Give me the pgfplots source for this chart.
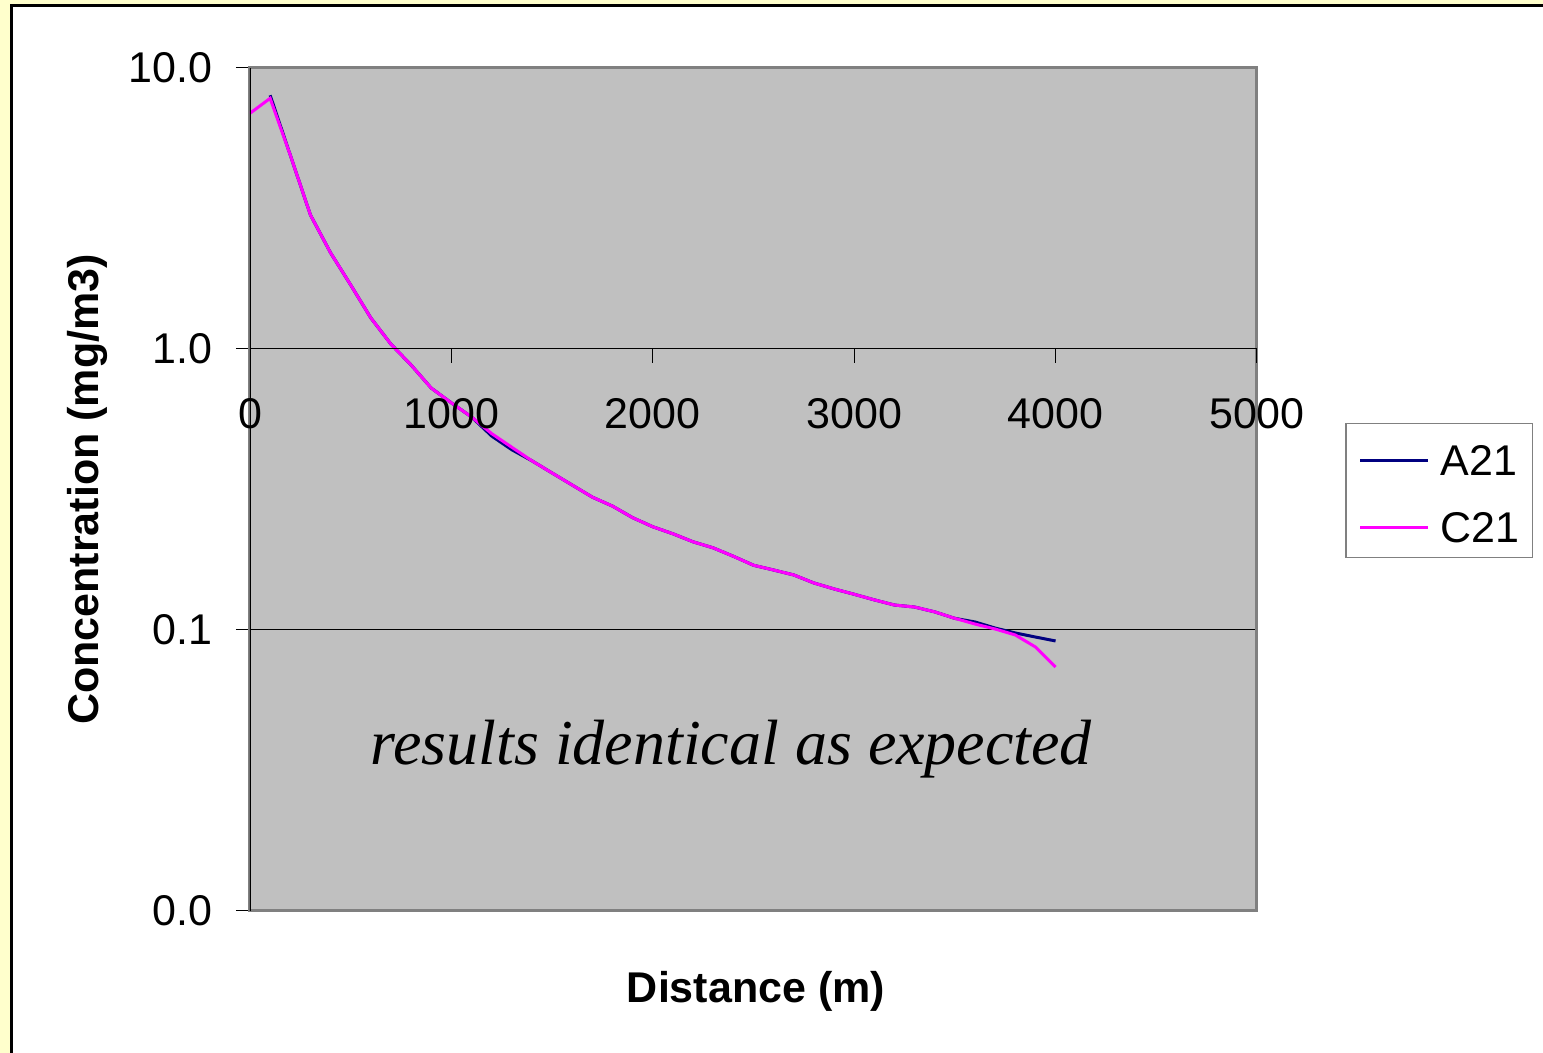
\documentclass[border=0pt]{standalone}
\usepackage{pgfplots}
\pgfplotsset{compat=1.18}
\usepackage{pgfplotstable}
\usepackage{fontspec}
\setmainfont{Liberation Sans}
\newfontfamily\timesfont{Liberation Serif}
\definecolor{bgyellow}{HTML}{FFFFCC}
\definecolor{plotgray}{HTML}{C0C0C0}
\definecolor{framegray}{HTML}{808080}
\definecolor{navyA}{HTML}{000080}
\definecolor{magC}{HTML}{FF00FF}
\newcommand\chartfont{\fontsize{21.5}{25}\selectfont}

% distance (m), concentration (mg/m3)
\pgfplotstableread{
d     A21     C21
0     nan     6.9
100   8.0     7.8
200   4.9     4.9
300   3.0     3.0
400   2.2     2.2
500   1.69    1.69
600   1.29    1.29
700   1.04    1.04
800   0.877   0.877
900   0.726   0.726
1000  0.643   0.643
1100  0.573   0.573
1200  0.49    0.50
1300  0.438   0.447
1400  0.40    0.40
1500  0.362   0.362
1600  0.328   0.328
1700  0.297   0.297
1800  0.276   0.276
1900  0.251   0.251
2000  0.233   0.233
2100  0.220   0.220
2200  0.206   0.206
2300  0.196   0.196
2400  0.183   0.183
2500  0.170   0.170
2600  0.1635  0.1635
2700  0.157   0.157
2800  0.147   0.147
2900  0.140   0.140
3000  0.134   0.134
3100  0.128   0.128
3200  0.1227  0.1227
3300  0.1207  0.1207
3400  0.116   0.116
3500  0.110   0.110
3600  0.1068  0.1050
3700  0.1016  0.1008
3800  0.0976  0.0960
3900  0.0944  0.0870
4000  0.0914  0.0738
}\conc

\begin{document}
\begin{tikzpicture}
\useasboundingbox (0,0) rectangle (771.5pt,526.5pt);
\clip (0,0) rectangle (771.5pt,526.5pt);
\fill[bgyellow] (0,0) rectangle (771.5pt,526.5pt);
\draw[line width=1.5pt, fill=white] (5.75pt,-10pt) rectangle (790pt,523.75pt);

\begin{axis}[
  at={(125pt,71pt)}, anchor=south west,
  scale only axis, width=503.5pt, height=421.5pt,
  xmin=0, xmax=5000, ymin=0.01, ymax=10,
  ymode=log,
  xtick=\empty,
  ytick={0.01,0.1,1,10},
  yticklabels={0.0,0.1,1.0,10.0},
  yminorticks=false,
  ytick pos=left,
  tick align=outside,
  major tick length=7pt,
  tick style={black, line width=0.5pt},
  ymajorgrids,
  major grid style={black, line width=0.5pt},
  axis background/.style={fill=plotgray},
  axis line style={framegray, line width=1.5pt},
  font=\chartfont,
  yticklabel style={anchor=east, inner sep=0pt, xshift=-11.5pt},
  xlabel={\bfseries Distance (m)},
  ylabel={\bfseries Concentration (mg/m3)},
  every axis x label/.style={at={(axis description cs:0.5025,-0.108)}, anchor=base},
  every axis y label/.style={at={(axis description cs:-0.150,0.5)}, rotate=90, anchor=base},
  legend style={at={(axis description cs:1.0874,0.5789)}, anchor=north west,
    draw=framegray, line width=0.75pt, fill=white,
    inner xsep=6.5pt, inner ysep=7.5pt, row sep=15pt, column sep=5.5pt,
    nodes={inner sep=0pt, text height=18.5pt, text depth=0pt, font=\chartfont}},
  legend image code/.code={\draw[#1] (0pt,-1.5pt) -- (34pt,-1.5pt);},
  legend cell align=left,
]
\addplot[navyA, line width=1.5pt] table[x=d, y=A21] {\conc};
\addlegendentry{A21}
\addplot[magC, line width=1.5pt] table[x=d, y=C21] {\conc};
\addlegendentry{C21}
\draw[black, line width=1pt] (rel axis cs:0,0) -- (rel axis cs:0,1);
\node[font=\timesfont\itshape\fontsize{32}{38}\selectfont, anchor=base]
  at (axis description cs:0.478,0.1732) {results identical as expected};
\end{axis}

\begin{axis}[
  at={(125pt,352pt)}, anchor=south west,
  scale only axis, width=503.5pt, height=140.5pt,
  xmin=0, xmax=5000, ymin=0, ymax=1,
  axis x line*=bottom,
  hide y axis,
  x axis line style={-, black, line width=0.5pt},
  xtick={0,1000,2000,3000,4000,5000},
  xticklabels={0,1000,2000,3000,4000,5000},
  tick align=outside,
  major tick length=7pt,
  tick style={black, line width=0.5pt},
  font=\chartfont,
  xticklabel style={anchor=north, inner sep=0pt, yshift=-17.5pt},
]
\end{axis}
\end{tikzpicture}
\end{document}
